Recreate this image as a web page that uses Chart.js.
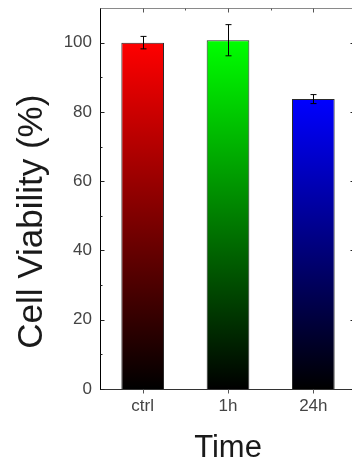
<!DOCTYPE html>
<html>
<head>
<meta charset="utf-8">
<script src="https://cdn.jsdelivr.net/npm/chart.js@4"></script>
<style>
  html, body { margin: 0; padding: 0; background: #fff; overflow: hidden; }
  /* the plot frame runs a few pixels past the right edge, as in the figure */
  #wrap { width: 352px; height: 466px; overflow: hidden; position: relative; }
  #chart { display: block; position: absolute; left: 0; top: 0; }
</style>
</head>
<body>
<div id="wrap"><canvas id="chart" width="361" height="466"></canvas></div>
<script>
// data
const categories = ['ctrl', '1h', '24h'];
const viability = [100.0, 100.7, 83.7];
const viabilityErr = [1.8, 4.5, 1.3];
const yTickValues = [0, 20, 40, 60, 80, 100];

const barColors = ['#ff0000', '#00ff00', '#0000ff'];

// each bar fades from its colour at the top down to black at the baseline
function barGradient(context) {
    const chart = context.chart;
    const base = barColors[context.dataIndex];
    if (!chart.chartArea || !chart.scales.y) return base;
    const yScale = chart.scales.y;
    const top = yScale.getPixelForValue(viability[context.dataIndex]);
    const bottom = yScale.getPixelForValue(0);
    const g = chart.ctx.createLinearGradient(0, top, 0, bottom);
    g.addColorStop(0, base);
    g.addColorStop(1, '#000000');
    return g;
}

const framePlugin = {
    id: 'frame',
    afterDatasetsDraw(chart) {
        const ctx = chart.ctx;
        const y = chart.scales.y;

        // error bars
        ctx.save();
        ctx.strokeStyle = '#000';
        ctx.lineWidth = 1;
        chart.getDatasetMeta(0).data.forEach((bar, i) => {
            const cx = Math.round(bar.x) + 0.5;
            const yHi = y.getPixelForValue(viability[i] + viabilityErr[i]);
            const yLo = y.getPixelForValue(viability[i] - viabilityErr[i]);
            ctx.beginPath();
            ctx.moveTo(cx, yHi); ctx.lineTo(cx, yLo);
            ctx.moveTo(cx - 3, yHi); ctx.lineTo(cx + 3, yHi);
            ctx.moveTo(cx - 3, yLo); ctx.lineTo(cx + 3, yLo);
            ctx.stroke();
        });
        ctx.restore();
    },
    afterDraw(chart) {
        const ctx = chart.ctx;
        const area = chart.chartArea;
        const x = chart.scales.x;
        const y = chart.scales.y;
        const L = Math.round(area.left) + 0.5;
        const R = Math.round(area.right) + 0.5;
        const T = Math.round(area.top) + 0.5;
        const B = Math.round(area.bottom) + 0.5;

        ctx.save();
        ctx.lineWidth = 1;

        // top and right frame lines
        ctx.strokeStyle = '#8a8a8a';
        ctx.beginPath();
        ctx.moveTo(L, T); ctx.lineTo(R, T);
        ctx.stroke();
        ctx.strokeStyle = '#333';
        ctx.beginPath();
        ctx.moveTo(R, T); ctx.lineTo(R, B);
        ctx.stroke();

        // y ticks, inward on both sides
        ctx.strokeStyle = '#222';
        ctx.beginPath();
        for (let v = 0; v <= 100; v += 10) {
            const py = Math.round(y.getPixelForValue(v)) + 0.5;
            const len = (v % 20 === 0) ? 4 : 2;
            ctx.moveTo(L, py); ctx.lineTo(L + len, py);
            ctx.moveTo(R, py); ctx.lineTo(R - len - 2, py);
        }
        ctx.stroke();

        // x ticks: outward at the bottom, inward at the top
        ctx.strokeStyle = '#555';
        ctx.beginPath();
        categories.forEach((c, i) => {
            const px = Math.round(x.getPixelForValue(i)) + 0.5;
            ctx.moveTo(px, B); ctx.lineTo(px, B + 4);
            ctx.moveTo(px, T); ctx.lineTo(px, T + 4);
            if (i > 0) {
                const mx = Math.round((x.getPixelForValue(i) + x.getPixelForValue(i - 1)) / 2) + 0.5;
                ctx.moveTo(mx, T); ctx.lineTo(mx, T + 2);
            }
        });
        ctx.stroke();

        // axis titles
        ctx.fillStyle = '#1a1a1a';
        ctx.font = '31px "Liberation Sans", Arial, sans-serif';
        ctx.textAlign = 'center';
        ctx.textBaseline = 'alphabetic';
        ctx.fillText('Time', (area.left + area.right) / 2, 456.5);

        ctx.translate(41.5, 221.7);
        ctx.rotate(-Math.PI / 2);
        ctx.font = '35px "Liberation Sans", Arial, sans-serif';
        ctx.fillText('Cell Viability (%)', 0, 0);
        ctx.restore();
    }
};

const ctx = document.getElementById('chart').getContext('2d');
new Chart(ctx, {
    type: 'bar',
    data: {
        labels: categories,
        datasets: [{
            data: viability,
            backgroundColor: barGradient,
            borderColor: '#2a2a2a',
            borderWidth: 1,
            barPercentage: 0.5,
            categoryPercentage: 1.0
        }]
    },
    options: {
        responsive: false,
        animation: false,
        layout: { padding: { top: 8, right: 5, left: 0, bottom: 0 } },
        plugins: {
            legend: { display: false },
            tooltip: { enabled: false }
        },
        scales: {
            x: {
                offset: true,
                grid: { display: false, drawTicks: false },
                border: { display: true, color: '#333', width: 1 },
                ticks: {
                    color: '#444',
                    padding: 7,
                    font: { family: '"Liberation Sans", Arial, sans-serif', size: 17 }
                },
                afterFit(scale) {
                    scale.height = 77;
                    scale.paddingLeft = 0;
                    scale.paddingRight = 0;
                }
            },
            y: {
                min: 0,
                max: 110,
                grid: { display: false, drawTicks: false },
                border: { display: true, color: '#000', width: 1 },
                ticks: {
                    color: '#444',
                    padding: 8,
                    font: { family: '"Liberation Sans", Arial, sans-serif', size: 17 }
                },
                afterBuildTicks(scale) {
                    scale.ticks = yTickValues.map(v => ({ value: v }));
                },
                afterFit(scale) {
                    scale.width = 100;
                    scale.paddingTop = 0;
                    scale.paddingBottom = 0;
                }
            }
        }
    },
    plugins: [framePlugin]
});
</script>
</body>
</html>
